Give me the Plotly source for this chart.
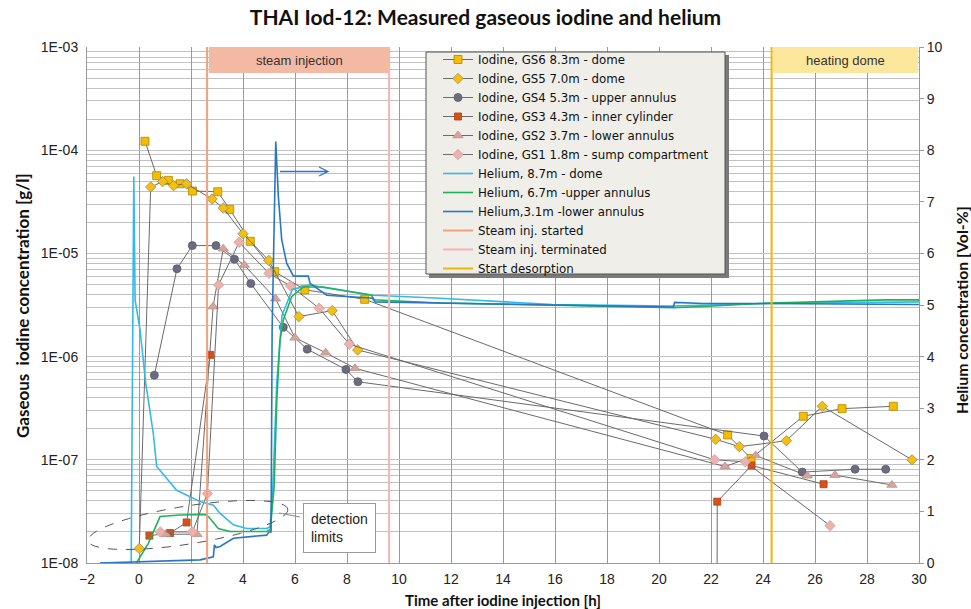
import numpy as np
import plotly.graph_objects as go

# ---------------- data ----------------
gs6_t = [0.23, 0.68, 1.13, 1.58, 2.06, 3.03, 3.49, 4.28, 5.22, 6.38, 8.68, 22.64, 23.54, 25.55, 27.04, 29.01]
gs6_c = [1.22e-4, 5.66e-5, 5.1e-5, 4.73e-5, 4.02e-5, 3.96e-5, 2.67e-5, 1.31e-5, 6.65e-6, 4.45e-6, 3.59e-6,
         1.74e-7, 1.03e-7, 2.64e-7, 3.13e-7, 3.3e-7]

gs5_t = [0.01, 0.45, 0.91, 1.33, 1.83, 2.81, 3.24, 4.0, 4.99, 6.15, 7.43, 8.41, 22.18, 23.09, 24.9, 26.28, 29.73]
gs5_c = [1.38e-8, 4.4e-5, 4.96e-5, 4.53e-5, 4.73e-5, 3.36e-5, 2.75e-5, 1.55e-5, 8.57e-6, 2.44e-6, 2.79e-6, 1.16e-6,
         1.58e-7, 1.34e-7, 1.53e-7, 3.3e-7, 1.0e-7]

gs4_t = [0.59, 1.46, 2.05, 2.96, 3.67, 4.3, 5.55, 6.47, 7.96, 8.42, 24.04, 25.51, 27.54, 28.72]
gs4_c = [6.6e-7, 7.1e-6, 1.19e-5, 1.19e-5, 8.77e-6, 5.1e-6, 1.92e-6, 1.18e-6, 7.5e-7, 5.7e-7, 1.7e-7, 7.6e-8,
         8.1e-8, 8.1e-8]

gs3_t = [0.4, 1.19, 1.83, 2.74, None, 22.22, 22.24, 23.56, 26.33]
gs3_c = [1.84e-8, 1.95e-8, 2.47e-8, 1.04e-6, None, 1e-10, 3.93e-8, 8.8e-8, 5.8e-8]

gs2_t = [1.02, 2.23, 2.85, 3.24, 4.05, 5.25, 6.0, 7.18, 8.31, 22.54, 23.72, 25.7, 26.77, 28.96]
gs2_c = [1.9e-8, 1.9e-8, 3.05e-6, 1.11e-5, 7.7e-6, 3.64e-6, 1.52e-6, 1.09e-6, 7.7e-7, 8.6e-8, 1.1e-7, 7.0e-8,
         7.1e-8, 5.7e-8]

gs1_t = [0.82, 2.05, 2.63, 3.06, 3.85, 5.0, 5.83, 6.93, 8.09, 22.14, 23.32, 26.58]
gs1_c = [2.0e-8, 2.0e-8, 4.7e-8, 4.95e-6, 1.28e-5, 6.4e-6, 4.83e-6, 2.94e-6, 1.32e-6, 1.0e-7, 9.56e-8, 2.3e-8]

he_dome_t = [-1.5, -0.3, -0.2, -0.15, 0.04, 0.26, 0.55, 0.68, 1.45, 2.35, 2.86, 3.12, 3.63, 4.14, 4.91, 5.04,
             5.15, 5.3, 5.5, 5.9, 6.58, 7.2, 9.01, 11.58, 15.9, 20.5, 24.0, 30.0]
he_dome_v = [0.0, 0.0, 7.49, 5.1, 4.52, 3.48, 2.51, 1.87, 1.41, 1.19, 1.12, 0.96, 0.74, 0.67, 0.67, 0.70,
             1.5, 3.5, 4.8, 5.3, 5.39, 5.33, 5.19, 5.13, 5.01, 4.98, 5.03, 5.06]

he_upper_t = [-0.1, 0.36, 0.81, 1.58, 2.54, 2.67, 3.05, 3.5, 4.91, 5.05, 5.2, 5.3, 5.42, 5.55, 5.87, 6.32, 7.09,
              8.95, 9.01, 11.58, 20.55, 21.7, 23.9, 28.7, 30.0]
he_upper_v = [0.0, 0.38, 0.9, 0.93, 0.94, 0.9, 0.67, 0.61, 0.61, 0.65, 1.5, 3.16, 4.3, 4.71, 5.16, 5.35, 5.35,
              5.19, 5.1, 5.04, 4.95, 4.97, 5.03, 5.1, 5.1]

he_lower_t = [-1.5, 2.35, 2.86, 2.9, 2.96, 3.12, 3.63, 4.91, 5.0, 5.08, 5.12, 5.2, 5.26, 5.36, 5.49, 5.68, 5.94,
              6.51, 6.58, 7.22, 9.01, 9.08, 11.58, 15.9, 20.55, 20.6, 21.7, 23.9, 30.0]
he_lower_v = [0.0, 0.06, 0.12, 0.35, 0.3, 0.32, 0.48, 0.54, 0.6, 0.6, 4.5, 7.0, 8.17, 7.1, 6.26, 5.81, 5.56,
              5.56, 5.42, 5.19, 5.13, 5.06, 5.04, 5.01, 4.96, 5.05, 5.03, 5.03, 5.01]

steam_start_t = 2.62
steam_end_t = 9.62
desorption_t = 24.33

y_tick_vals = [1e-8, 1e-7, 1e-6, 1e-5, 1e-4, 1e-3]
y_tick_text = ["1E-08", "1E-07", "1E-06", "1E-05", "1E-04", "1E-03"]

# ---------------- figure ----------------
fig = go.Figure()

line_grey = "#6a6a6a"
iodine = [
    ("Iodine, GS6 8.3m - dome", gs6_t, gs6_c, "square", "#f5bd00", "#b08800", 8),
    ("Iodine, GS5 7.0m - dome", gs5_t, gs5_c, "diamond", "#f3bf10", "#9a8a60", 8),
    ("Iodine, GS4 5.3m - upper annulus", gs4_t, gs4_c, "circle", "#6c6c80", "#5a5a6a", 8),
    ("Iodine, GS3 4.3m - inner cylinder", gs3_t, gs3_c, "square", "#d9501a", "#b04010", 7),
    ("Iodine, GS2 3.7m - lower annulus", gs2_t, gs2_c, "triangle-up", "#d6a49c", "#b89088", 9),
    ("Iodine, GS1 1.8m - sump compartment", gs1_t, gs1_c, "diamond", "#ebb3ae", "#d59c98", 8),
]
for name, t, c, sym, fc, ec, sz in iodine:
    fig.add_trace(go.Scatter(
        x=t, y=c, name=name, mode="lines+markers", connectgaps=False,
        line=dict(color=line_grey, width=1),
        marker=dict(symbol=sym, size=sz, color=fc, line=dict(color=ec, width=0.8)),
        yaxis="y",
    ))

helium = [
    ("Helium, 8.7m - dome", he_dome_t, he_dome_v, "#33b9ea"),
    ("Helium, 6.7m -upper annulus", he_upper_t, he_upper_v, "#1fb25c"),
    ("Helium,3.1m -lower annulus", he_lower_t, he_lower_v, "#2a76c4"),
]
for name, t, v, col in helium:
    fig.add_trace(go.Scatter(x=t, y=v, name=name, mode="lines",
                             line=dict(color=col, width=1.6), yaxis="y2"))

vlines = [
    ("Steam inj. started", steam_start_t, "#f4a07c"),
    ("Steam inj. terminated", steam_end_t, "#f3b3b8"),
    ("Start desorption", desorption_t, "#f2b600"),
]
for name, t, col in vlines:
    fig.add_trace(go.Scatter(x=[t, t], y=[0, 10], name=name, mode="lines",
                             line=dict(color=col, width=2), yaxis="y2"))

# ---------------- decorations ----------------
X0, X1, PX0, PX1 = -2.0, 30.0, 87.0, 919.0
PY0, PY1 = 563.0, 47.0


def px2x(px):
    return X0 + (px - PX0) * (X1 - X0) / (PX1 - PX0)


def py2v(py):
    return (PY0 - py) * 10.0 / (PY0 - PY1)


def px2p(px):
    return (px - PX0) / (PX1 - PX0)


def py2p(py):
    return (PY0 - py) / (PY0 - PY1)


shapes = []
# header boxes
shapes.append(dict(type="rect", xref="x", yref="y2", x0=2.69, x1=steam_end_t, y0=py2v(73), y1=10,
                   fillcolor="#f4b9a2", line=dict(width=0), layer="above"))
shapes.append(dict(type="rect", xref="x", yref="y2", x0=24.38, x1=29.96, y0=py2v(73), y1=10,
                   fillcolor="#fde79c", line=dict(width=0), layer="above"))

# dashed ellipse (tilted) around detection limits
cx, cy, a, b, ang = 188.0, 525.0, 101.0, 19.0, np.deg2rad(9.0)
th = np.linspace(0, 2 * np.pi, 73)
ex = cx + a * np.cos(th) * np.cos(ang) + b * np.sin(th) * np.sin(ang)
ey = cy - a * np.cos(th) * np.sin(ang) + b * np.sin(th) * np.cos(ang)
path = "M " + " L ".join(f"{px2x(u):.4f},{py2v(w):.4f}" for u, w in zip(ex, ey)) + " Z"
shapes.append(dict(type="path", xref="x", yref="y2", path=path,
                   line=dict(color="#555555", width=1, dash="dash")))
# callout pointer
shapes.append(dict(type="line", xref="x", yref="y2", x0=px2x(279), y0=py2v(513), x1=px2x(300), y1=py2v(517),
                   line=dict(color="#888888", width=1)))

# helium arrow to right axis
ay = py2v(171.5)
ax0, ax1 = px2x(280), px2x(328)
hx, hy = 9.0 * (X1 - X0) / (PX1 - PX0), 4.5 * 10.0 / (PY0 - PY1)
shapes.append(dict(type="path", xref="x", yref="y2",
                   path=f"M {ax0},{ay} L {ax1},{ay} M {ax1-hx},{ay+hy} L {ax1},{ay} L {ax1-hx},{ay-hy}",
                   line=dict(color="#2a76c4", width=1.3)))

# legend box with shadow
shapes.append(dict(type="rect", xref="paper", yref="paper",
                   x0=px2p(429), x1=px2p(729), y0=py2p(278), y1=py2p(55),
                   fillcolor="#7a7a7a", line=dict(width=0), layer="above"))
shapes.append(dict(type="rect", xref="paper", yref="paper",
                   x0=px2p(426), x1=px2p(725), y0=py2p(274), y1=py2p(52),
                   fillcolor="#efeee9", line=dict(color="#555555", width=1), layer="above"))

annotations = [
    dict(text="steam injection", xref="x", yref="y2", x=(2.69 + steam_end_t) / 2, y=py2v(60),
         xanchor="center", yanchor="middle",
         showarrow=False, font=dict(family="Liberation Sans, Arial", size=13, color="#333333")),
    dict(text="heating dome", xref="x", yref="y2", x=(24.38 + 29.96) / 2, y=py2v(60),
         xanchor="center", yanchor="middle",
         showarrow=False, font=dict(family="Liberation Sans, Arial", size=13, color="#333333")),
    dict(text="detection<br>limits", xref="x", yref="y2", x=px2x(339), y=py2v(528), showarrow=False,
         xanchor="center", yanchor="middle",
         align="left", bgcolor="white", bordercolor="#999999", borderwidth=1, borderpad=7,
         font=dict(family="Liberation Sans, Arial", size=14, color="#222222")),
    dict(text="<b>Gaseous&nbsp; iodine concentration [g/l]</b>", xref="paper", yref="paper",
         x=px2p(22), y=py2p(306), textangle=-90, showarrow=False, xanchor="center", yanchor="middle",
         font=dict(family="Lato", size=17, color="#111111")),
    dict(text="<b>Helium concentration [Vol-%]</b>", xref="paper", yref="paper",
         x=px2p(961), y=py2p(310), textangle=-90, showarrow=False, xanchor="center", yanchor="middle",
         font=dict(family="Lato", size=15.8, color="#111111")),
    dict(text="<b>Time after iodine injection [h]</b>", xref="paper", yref="paper",
         x=px2p(503), y=py2p(600), showarrow=False, xanchor="center", yanchor="middle",
         font=dict(family="Lato", size=15, color="#111111")),
]

minor_vals = [m * d for d in y_tick_vals[:-1] for m in range(2, 10)]

tick_font = dict(family="Liberation Sans, Arial", size=14, color="#222")
fig.update_layout(
    width=971, height=609,
    margin=dict(l=87, r=52, t=47, b=46),
    paper_bgcolor="white", plot_bgcolor="white",
    title=dict(text="<b>THAI Iod-12: Measured gaseous iodine and helium</b>", x=0.5, xanchor="center",
               y=1 - 18 / 609, yanchor="middle", yref="container",
               font=dict(family="Lato", size=21, color="#111111")),
    xaxis=dict(range=[X0, X1], dtick=2, tick0=0, showgrid=True, gridcolor="#9a9a9a", gridwidth=1,
               zeroline=False, showline=True, linecolor="#9a9a9a", ticks="outside", ticklen=3,
               tickcolor="rgba(0,0,0,0)", tickfont=tick_font),
    yaxis=dict(type="log", range=[-8, -3], tickvals=y_tick_vals, ticktext=y_tick_text,
               showgrid=True, gridcolor="#c2c2c2", gridwidth=1, zeroline=False,
               showline=True, linecolor="#9a9a9a", ticks="outside", ticklen=5, tickcolor="rgba(0,0,0,0)",
               tickfont=tick_font,
               minor=dict(tickvals=minor_vals, showgrid=True, gridcolor="#c2c2c2", gridwidth=1, ticks="")),
    yaxis2=dict(overlaying="y", side="right", range=[0, 10], dtick=1, showgrid=False, zeroline=False,
                showline=True, linecolor="#9a9a9a", ticks="outside", ticklen=4, tickcolor="#9a9a9a",
                tickfont=tick_font),
    legend=dict(x=px2p(438), y=py2p(45), xanchor="left", yanchor="top",
                bgcolor="rgba(0,0,0,0)", borderwidth=0, tracegroupgap=0,
                font=dict(family="DejaVu Sans", size=11.8, color="#111111")),
    shapes=shapes,
    annotations=annotations,
    showlegend=True,
)

fig.write_html("out.html")
